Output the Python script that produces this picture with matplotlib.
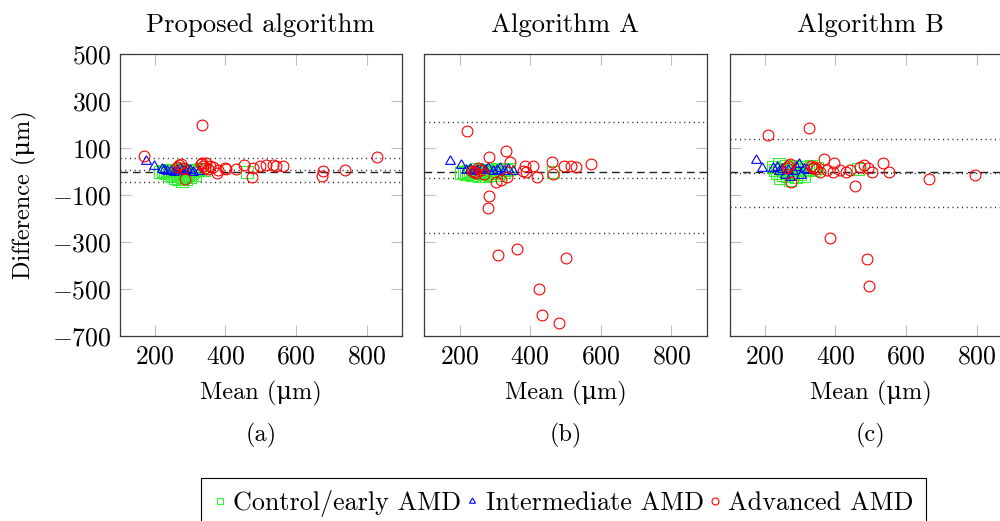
import matplotlib
matplotlib.use("Agg")
import matplotlib.pyplot as plt
from matplotlib.lines import Line2D

plt.rcParams['font.family'] = ['cmr10', 'DejaVu Serif']
plt.rcParams['mathtext.fontset'] = 'cm'
plt.rcParams['axes.formatter.use_mathtext'] = True
plt.rcParams['font.size'] = 17.5

# ---------------- data ----------------
titles = ["Proposed algorithm", "Algorithm A", "Algorithm B"]
panel_tags = ["(a)", "(b)", "(c)"]
group_labels = ["Control/early AMD", "Intermediate AMD", "Advanced AMD"]

x_ticks = [200, 400, 600, 800]
y_ticks = [500, 300, 100, -100, -300, -500, -700]

# Bland-Altman lines: bias, upper / lower limits of agreement
bias = [6, -26, -6]
loa_upper = [56, 210, 138]
loa_lower = [-44, -262, -151]

# Panel (a)
gx1 = [215, 222, 228, 235, 240, 244, 248, 252, 255, 258, 261, 264, 267, 270, 272, 275, 278, 281, 284, 287, 290, 293, 296, 300, 304, 309, 314, 320, 327, 338, 462]
gy1 = [-2, 3, -8, 6, -14, 1, -20, 8, -6, -26, 4, -12, -32, 10, -18, -4, -42, -24, 6, -30, -10, -16, 2, -22, -8, 4, -14, 6, 10, 8, -3]
bx1 = [175, 198, 219, 226, 235, 247, 255, 262, 270, 278, 285, 292, 300, 308, 325]
by1 = [46, 23, 11, 6, 4, 4, 0, 8, 14, 5, 2, 10, 6, -2, 3]
rx1 = [168, 262, 268, 273, 279, 286, 330, 333, 337, 341, 345, 350, 356, 365, 375, 380, 398, 402, 431, 453, 474, 479, 497, 516, 535, 544, 563, 676, 674, 740, 830, 335]
ry1 = [67, 20, 28, 32, 15, -30, 30, 38, 25, 15, 35, 10, 22, 20, -8, 5, 16, 12, 9, 28, -22, 13, 23, 26, 26, 23, 23, 4, -19, 6, 60, 200]

# Panel (b)
gx2 = [205, 212, 218, 224, 230, 236, 240, 245, 250, 254, 258, 262, 266, 270, 274, 278, 282, 286, 290, 295, 300, 305, 310, 316, 322, 330, 340, 465]
gy2 = [-5, 0, -12, 4, -8, -15, 2, -6, 10, -18, -3, 6, -10, 0, -20, 8, -5, -14, 3, -8, -2, 12, -16, 5, -4, 8, 10, -2]
bx2 = [174, 203, 219, 230, 238, 248, 262, 272, 281, 295, 305, 314, 325, 338, 350]
by2 = [46, 28, 6, 10, 2, 8, 12, 5, 13, 3, 8, 13, 4, 10, 4]
rx2 = [221, 236, 245, 252, 260, 282, 279, 282, 304, 310, 318, 331, 335, 344, 362, 380, 386, 389, 407, 420, 426, 434, 462, 465, 482, 496, 500, 515, 530, 572, 240, 268]
ry2 = [172, 4, -5, 13, 8, 60, -154, -106, -43, -354, -36, 89, -22, 39, -331, 4, 25, 0, 25, -25, -501, -612, 42, -12, -643, 23, -369, 23, 18, 32, 0, -10]

# Panel (c)
gx3 = [222, 228, 234, 240, 243, 248, 252, 256, 260, 264, 268, 272, 276, 280, 284, 288, 292, 296, 300, 305, 310, 316, 322, 330, 338, 348, 465]
gy3 = [20, 8, -5, 30, -29, 12, -15, 2, 25, -20, 6, -36, 15, -8, 22, -25, 0, 10, -12, 18, -18, 5, 12, 25, 8, 15, 11]
bx3 = [174, 193, 224, 235, 240, 250, 257, 265, 271, 280, 288, 297, 302, 310, 320]
by3 = [49, 13, 16, 20, 4, 10, -15, 8, -22, 2, 20, 32, -15, 12, 6]
rx3 = [210, 325, 384, 490, 495, 456, 666, 795, 369, 396, 536, 482, 493, 503, 553, 429, 442, 394, 375, 355, 336, 339, 271, 266, 273, 262, 330, 345, 412, 470]
ry3 = [155, 184, -285, -372, -489, -60, -33, -13, 52, 38, 35, 28, 13, -3, 0, -3, 6, -3, 6, 0, 13, 20, 32, 23, -43, 15, 25, 10, 8, 20]

panels = [
    ((gx1, gy1), (bx1, by1), (rx1, ry1)),
    ((gx2, gy2), (bx2, by2), (rx2, ry2)),
    ((gx3, gy3), (bx3, by3), (rx3, ry3)),
]

# ---------------- style ----------------
GREEN = '#33f033'
BLUE = '#0000ff'
RED = '#ff0000'
colors = [GREEN, BLUE, RED]
markers = ['s', (3, 0, 0), 'o']
msizes = [8.0, 8.2, 7.8]

W, H = 1000, 521
fig = plt.figure(figsize=(W / 100, H / 100), dpi=100)
lefts = [119.5, 424.3, 729.5]
aw, ah = 282.5, 282.0
abottom = H - 336.0
FS_TITLE = 19.2
FS_LABEL = 17.5
FS_TICK = 18.5
FS_LEG = 18.8

for i, left in enumerate(lefts):
    ax = fig.add_axes([left / W, abottom / H, aw / W, ah / H])
    ax.set_xlim(100, 900)
    ax.set_ylim(-700, 500)
    ax.set_xticks(x_ticks)
    ax.set_yticks(y_ticks)
    ax.tick_params(direction='in', length=8, width=0.8, color='#bdbdbd',
                   top=True, right=True, labelsize=FS_TICK, pad=6.0)
    for s in ax.spines.values():
        s.set_color('#3a3a3a')
        s.set_linewidth(0.9)
    if i > 0:
        ax.tick_params(labelleft=False)

    # reference lines
    ax.axhline(0, color='#222222', lw=1.0, ls=(0, (5.5, 3.5)), zorder=1)
    for v in (bias[i], loa_upper[i], loa_lower[i]):
        ax.axhline(v, color='#222222', lw=1.0, ls=(0, (0.8, 2.6)), zorder=1)

    for (xs, ys), c, m, ms in zip(panels[i], colors, markers, msizes):
        ax.plot(xs, ys, ls='none', marker=m, ms=ms, mfc='none', mec=c,
                mew=0.8, zorder=3)

    ax.set_title(titles[i], fontsize=FS_TITLE, pad=16)
    ax.set_xlabel('Mean (\u03bcm)', fontsize=FS_LABEL, va='center')
    ax.xaxis.set_label_coords(0.5, (336 - 393) / ah)
    ax.text(0.5, (336 - 435) / ah, panel_tags[i], transform=ax.transAxes,
            ha='center', va='center', fontsize=FS_LABEL)
    if i == 0:
        ax.set_ylabel('Difference (\u03bcm)', fontsize=FS_LABEL, va='center')
        ax.yaxis.set_label_coords((24 - left) / aw, 0.5)

handles = [Line2D([], [], ls='none', marker=m, ms=5.0, mfc='none', mec=c, mew=0.8)
           for c, m in zip(colors, markers)]
leg = fig.legend(handles, group_labels, loc='upper center',
                 bbox_to_anchor=(563.5 / W, 1 - 478 / H), ncol=3,
                 frameon=True, fancybox=False, edgecolor='black', framealpha=1,
                 handlelength=0.5, handletextpad=0.25, columnspacing=0.2,
                 borderaxespad=0, borderpad=0.45, fontsize=FS_LEG)
leg.get_frame().set_linewidth(0.8)

fig.savefig('out.png', dpi=100)
